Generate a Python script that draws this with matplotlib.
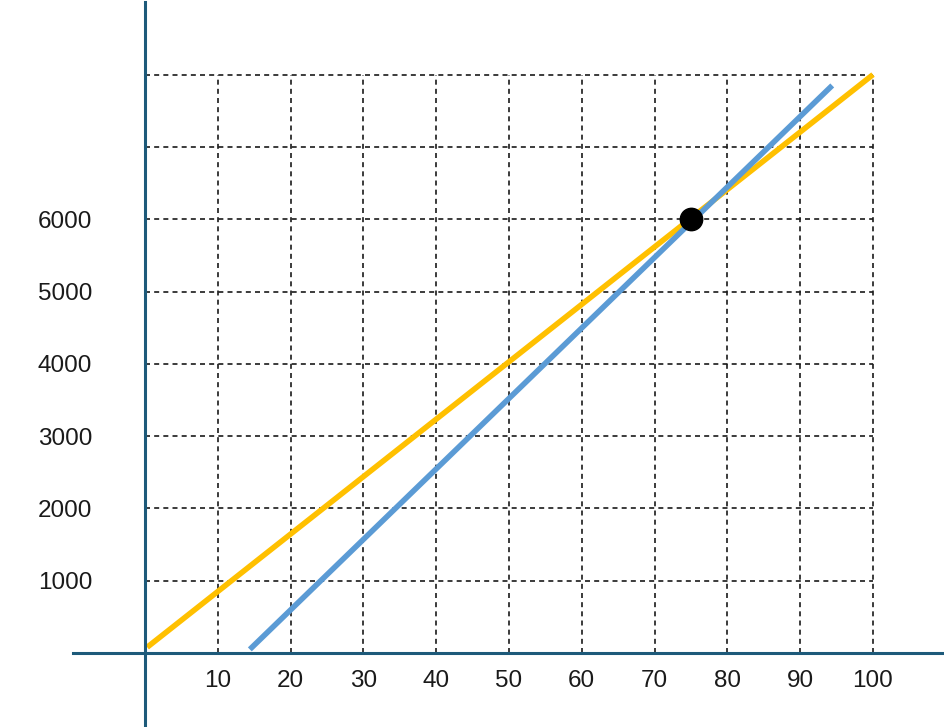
import numpy as np
import matplotlib
matplotlib.use("Agg")
import matplotlib.pyplot as plt

# line endpoints
yellow_x = [0.3, 100]
yellow_y = [80, 8000]
blue_x = [14.4, 94.4]
blue_y = [50, 7850]
point_x, point_y = [75], [6000]

x_ticks = [10, 20, 30, 40, 50, 60, 70, 80, 90, 100]
y_ticks = [1000, 2000, 3000, 4000, 5000, 6000]
grid_x = [10, 20, 30, 40, 50, 60, 70, 80, 90, 100]
grid_y = [1000, 2000, 3000, 4000, 5000, 6000, 7000, 8000]

C_AXIS = "#1d5a7a"
C_YEL = "#ffc000"
C_BLUE = "#5b9bd5"

plt.rcParams["font.family"] = ["Liberation Sans", "DejaVu Sans"]

fig = plt.figure(figsize=(9.45, 7.27), dpi=100)
ax = fig.add_axes([0, 0, 1, 1])
# pixel mapping: x0 at px 145, 7.28 px/unit; y0 at px 653, 0.0723 px/unit
ax.set_xlim(-145 / 7.28, (945 - 145) / 7.28)
ax.set_ylim((653 - 727) / 0.0723, 653 / 0.0723)

dash = dict(color="#1a1a1a", lw=1.2, linestyles=(0, (3, 2.5)), zorder=1)
ax.vlines(grid_x, 0, 8000, **dash)
ax.hlines(grid_y, 0, 100, **dash)

ax.plot(yellow_x, yellow_y, color=C_YEL, lw=4, solid_capstyle="butt", zorder=3)
ax.plot(blue_x, blue_y, color=C_BLUE, lw=4, solid_capstyle="butt", zorder=3)
ax.scatter(point_x, point_y, s=260, color="black", zorder=5)

for s in ("top", "right"):
    ax.spines[s].set_visible(False)
ax.spines["left"].set_position(("data", 0))
ax.spines["bottom"].set_position(("data", 0))
ax.spines["left"].set_bounds((653 - 725) / 0.0723, (653 - 2) / 0.0723)
ax.spines["bottom"].set_bounds((73 - 145) / 7.28, (945 - 145) / 7.28)
for s in ("left", "bottom"):
    ax.spines[s].set_color(C_AXIS)
    ax.spines[s].set_linewidth(2.2)
    ax.spines[s].set_zorder(4)

ax.set_xticks(x_ticks)
ax.set_xticklabels([str(v) for v in x_ticks])
ax.set_yticks(y_ticks)
ax.set_yticklabels([str(v) for v in y_ticks])
ax.tick_params(axis="x", length=0, pad=12, labelsize=17.5, colors="#1a1a1a")
ax.tick_params(axis="y", length=0, pad=38, labelsize=17.5, colors="#1a1a1a")

fig.savefig("out.png", dpi=100, facecolor="white")
